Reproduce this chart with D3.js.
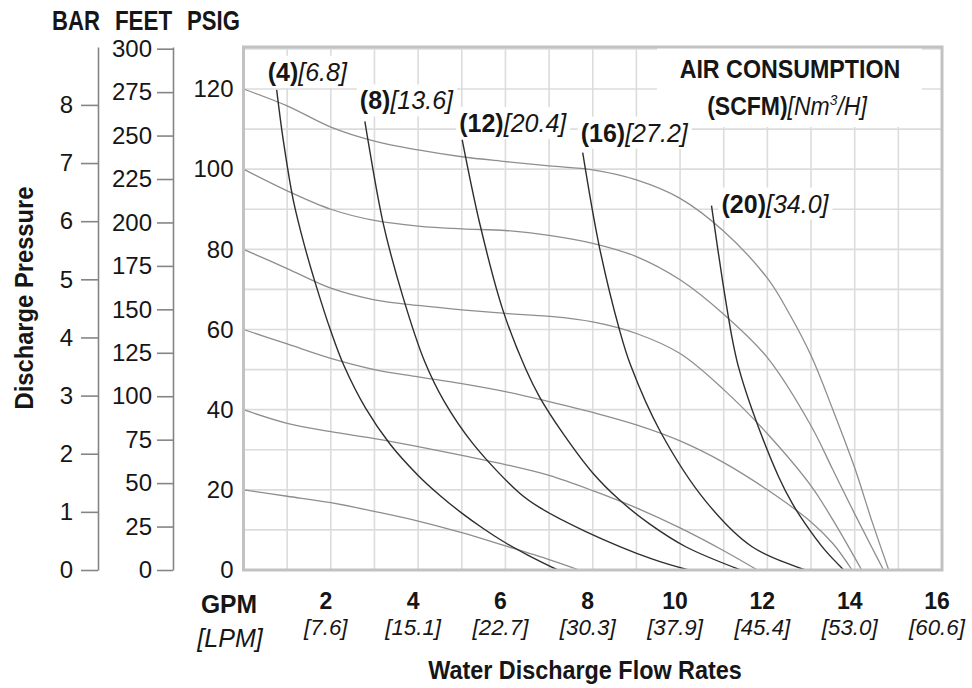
<!DOCTYPE html>
<html><head><meta charset="utf-8">
<script src="https://cdn.jsdelivr.net/npm/d3@7"></script>
<style>
body{margin:0;background:#fff}
svg{display:block}
text{font-family:'Liberation Sans',Arial,Helvetica,sans-serif;fill:#161616}
</style>
</head><body>
<svg id="c" width="972" height="688"></svg>
<script>
// ---------- data ----------
const psiTicks = [0, 20, 40, 60, 80, 100, 120];
const barTicks = [0, 1, 2, 3, 4, 5, 6, 7, 8];
const feetTicks = [0, 25, 50, 75, 100, 125, 150, 175, 200, 225, 250, 275, 300];
const gpmTicks = [2, 4, 6, 8, 10, 12, 14, 16];
const lpmLabels = ["[7.6]", "[15.1]", "[22.7]", "[30.3]", "[37.9]", "[45.4]", "[53.0]", "[60.6]"];

// inlet air pressure curves (psig) : [gpm, discharge psig]
const p20 = [[0,20],[1,18.4],[2,16.8],[3,14.6],[4,12.2],[5,9.3],[6,6.0],[7,2.6],[7.69,0]];
const p40 = [[0,40],[1,36.6],[2,34.5],[3,32.8],[4,30.8],[5,28.6],[6,26.3],[7,23.6],[8,19.8],[9,15.5],[10,10.5],[11,4.8],[11.77,0]];
const p60 = [[0,60],[1,56.4],[2,52.8],[3,50],[4,48.2],[5,46.5],[6,44.5],[7,42],[8,39.3],[9,36.2],[10,32.2],[11,26.8],[12,20],[13,12],[13.5,6.6],[13.94,0]];
const p80 = [[0,80],[1,75.2],[2,70.3],[3,67.4],[4,66],[5,64.9],[6,64],[7,63.3],[8,61.9],[9,59],[10,54],[11,45],[12,34],[13,21],[13.5,12.5],[14.16,0]];
const p100 = [[0,100],[1,94.6],[2,90],[3,87.2],[4,85.8],[5,85.1],[6,84.7],[7,83.5],[8,81.5],[9,78.2],[10,72.4],[11,63.8],[12,53],[13,36],[13.5,25],[14,14],[14.4,5.5],[14.66,0]];
const p120 = [[0,120],[1,115.8],[2,110.5],[3,107],[4,104.8],[5,103.1],[6,101.9],[7,100.8],[8,99.8],[9,97.3],[10,92.7],[11,84.5],[12,72.8],[12.5,64],[13,53.5],[13.5,40],[14,25.5],[14.4,12],[14.78,0]];

// air consumption curves (SCFM)
const a4 = [[0.76,119.8],[0.91,107.3],[1.14,92.3],[1.4,80.8],[1.67,70.7],[2,59.6],[2.3,51],[2.8,40.3],[3.35,31.5],[4,23.6],[4.5,18.6],[5,14.2],[5.5,10.3],[6,6.8],[6.5,3.8],[7.2,0]];
const a8 = [[2.78,111.9],[2.85,107.3],[3.2,86.5],[3.65,68.2],[4.15,52],[4.6,42],[5.25,31.6],[6.32,19.2],[6.78,15.6],[7.84,9.6],[9.37,2.7],[10.2,0]];
const a12 = [[5.01,107.3],[5.41,86.5],[5.94,64.9],[6.47,50],[6.78,43.2],[7.31,34.2],[8,24.2],[8.61,17.5],[9.3,11.5],[10.13,5.8],[11.39,0]];
const a16 = [[7.77,104.1],[8.15,80.7],[8.61,60],[8.87,51],[9.55,34.5],[10.6,17],[11.65,5.8],[12.87,0]];
const a20 = [[10.72,90.9],[10.97,72.4],[11.2,57.4],[11.33,51],[11.65,40],[12.26,23.2],[12.57,16.6],[12.87,11.5],[13.3,5.2],[13.75,0]];

const pressureCurves = [p20, p40, p60, p80, p100, p120];
const airCurves = [a4, a8, a12, a16, a20];
const airScfm = ["(4)", "(8)", "(12)", "(16)", "(20)"];
const airNm3 = ["[6.8]", "[13.6]", "[20.4]", "[27.2]", "[34.0]"];

const PSI_PER_BAR = 14.5038;
const PSI_PER_FOOT = 0.43353;

// ---------- layout ----------
const svg = d3.select('#c');
const x = d3.scaleLinear().domain([0, 16]).range([243.5, 942]);
const y = d3.scaleLinear().domain([0, 120]).range([570, 89]);
const psiTop = y.invert(47);

function txt(parent, px, py, parts, o) {
  o = o || {};
  const t = parent.append('text')
    .attr('transform', `translate(${px},${py})` + (o.rot ? ` rotate(${o.rot})` : '') + ` scale(${o.sx || 1},1)`)
    .attr('text-anchor', o.anchor || 'start')
    .style('font-size', (o.size || 24) + 'px');
  parts.forEach(p => {
    const s = t.append('tspan').text(p.t)
      .style('font-weight', p.b ? 'bold' : 'normal')
      .style('font-style', p.i ? 'italic' : 'normal');
    if (p.fs) s.style('font-size', p.fs + 'px');
    if (p.dy) s.attr('dy', p.dy);
  });
  return t;
}

// grid
const grid = svg.append('g');
grid.selectAll('line.v').data(d3.range(1, 16)).join('line')
  .attr('x1', d => x(d)).attr('x2', d => x(d))
  .attr('y1', y(0)).attr('y2', y(psiTop))
  .attr('stroke', '#dcdcdc').attr('stroke-width', 1.6);
grid.selectAll('line.h').data(d3.range(10, 131, 10)).join('line')
  .attr('x1', x(0)).attr('x2', x(16))
  .attr('y1', d => y(d)).attr('y2', d => y(d))
  .attr('stroke', '#dcdcdc').attr('stroke-width', 1.6);

const bg = svg.append('g');
const curves = svg.append('g');
const labels = svg.append('g');

const line = d3.line().x(d => x(d[0])).y(d => y(d[1])).curve(d3.curveCatmullRom.alpha(0.5));

curves.selectAll('path.p').data(pressureCurves).join('path')
  .attr('d', line).attr('fill', 'none').attr('stroke', '#8e8e8e').attr('stroke-width', 1.3);
curves.selectAll('path.a').data(airCurves).join('path')
  .attr('d', line).attr('fill', 'none').attr('stroke', '#2e2e2e').attr('stroke-width', 1.4);

// frame
svg.append('rect').attr('x', x(0)).attr('y', y(psiTop))
  .attr('width', x(16) - x(0)).attr('height', y(0) - y(psiTop))
  .attr('fill', 'none').attr('stroke', '#c2c2c2').attr('stroke-width', 3);

// curve labels
const labOff = [[-9, -9], [-5, -12], [-3, -8], [-2, -11], [10, 7]];
airCurves.forEach((c, i) => {
  const t = txt(labels, x(c[0][0]) + labOff[i][0], y(c[0][1]) + labOff[i][1],
    [{ t: airScfm[i], b: true }, { t: airNm3[i], i: true }], { size: 25 });
  const bb = t.node().getBBox();
  bg.append('rect').attr('x', x(c[0][0]) + labOff[i][0] + bb.x - 3).attr('y', y(c[0][1]) + labOff[i][1] + bb.y - 2)
    .attr('width', bb.width + 6).attr('height', bb.height + 4).attr('fill', '#fff');
});

// air consumption title
txt(labels, 790, 78, [{ t: 'AIR CONSUMPTION', b: true }], { size: 25, anchor: 'middle', sx: 0.93 });
txt(labels, 787, 115, [
  { t: '(SCFM)', b: true }, { t: '[Nm', i: true }, { t: '3', i: true, fs: 15, dy: -10 }, { t: '/H]', i: true, dy: 10 }
], { size: 25, anchor: 'middle', sx: 0.92 });
bg.append('rect').attr('x', 657).attr('y', y(psiTop) + 1).attr('width', 922 - 657).attr('height', 127 - y(psiTop) - 1).attr('fill', '#fff');

// PSIG axis labels
const gPsi = svg.append('g').attr('transform', `translate(${x(0)},0)`)
  .call(d3.axisLeft(y).tickValues(psiTicks).tickSize(0).tickPadding(10));
gPsi.select('.domain').remove();
gPsi.selectAll('text').style('font-size', '24px').style('font-family', "'Liberation Sans',Arial,sans-serif").attr('fill', '#161616');

// BAR axis
const yBar = d3.scaleLinear().domain([0, psiTop / PSI_PER_BAR]).range([y(0), y(psiTop)]);
const gBar = svg.append('g').attr('transform', 'translate(98,0)')
  .call(d3.axisLeft(yBar).tickValues(barTicks).tickSize(17).tickSizeOuter(0).tickPadding(8));
// FEET axis
const yFeet = d3.scaleLinear().domain([0, psiTop / PSI_PER_FOOT]).range([y(0), y(psiTop)]);
const gFeet = svg.append('g').attr('transform', 'translate(173,0)')
  .call(d3.axisLeft(yFeet).tickValues(feetTicks).tickSize(16).tickSizeOuter(0).tickPadding(5));
[gBar, gFeet].forEach(g => {
  g.select('.domain').attr('stroke', '#858585').attr('stroke-width', 1.6);
  g.selectAll('.tick line').attr('stroke', '#858585').attr('stroke-width', 1.6);
  g.selectAll('text').style('font-size', '24px').style('font-family', "'Liberation Sans',Arial,sans-serif").attr('fill', '#161616');
});

// axis header
txt(svg, 76, 30, [{ t: 'BAR', b: true }], { size: 27, anchor: 'middle', sx: 0.82 });
txt(svg, 143.5, 30, [{ t: 'FEET', b: true }], { size: 27, anchor: 'middle', sx: 0.83 });
txt(svg, 213.5, 30, [{ t: 'PSIG', b: true }], { size: 27, anchor: 'middle', sx: 0.82 });

// y title
txt(svg, 33, 298, [{ t: 'Discharge Pressure', b: true }], { size: 25, anchor: 'middle', rot: -90, sx: 0.95 });

// x labels
const gx = svg.append('g');
gpmTicks.forEach((v, i) => {
  txt(gx, x(v) - 5, 609, [{ t: String(v), b: true }], { size: 23, anchor: 'middle' });
  txt(gx, x(v) - 5, 635, [{ t: lpmLabels[i], i: true }], { size: 23, anchor: 'middle', sx: 0.97 });
});
txt(gx, 229, 613, [{ t: 'GPM', b: true }], { size: 26, anchor: 'middle', sx: 0.95 });
txt(gx, 230, 647, [{ t: '[LPM]', i: true }], { size: 25, anchor: 'middle' });
txt(gx, 585, 679, [{ t: 'Water Discharge Flow Rates', b: true }], { size: 26, anchor: 'middle', sx: 0.9 });
</script>
</body></html>
